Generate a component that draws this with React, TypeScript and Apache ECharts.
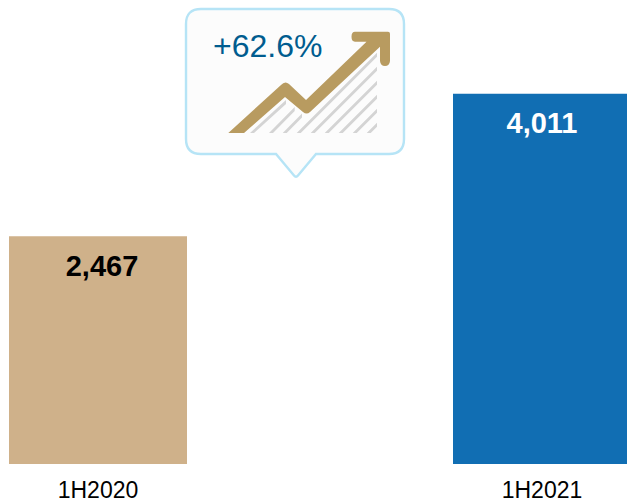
import React, { useEffect, useRef } from "react";
import * as echarts from "echarts";

const categories = ["1H2020", "1H2021"];
const values = [2467, 4011];
const barColors = ["#CFB18A", "#116EB3"];
const labelColors = ["#000000", "#FFFFFF"];
const labelOffsets = [[4, 1], [0, 1]];
const growthLabel = "+62.6%";

const FONT = '"Liberation Sans", Arial, sans-serif';

// Speech-bubble outline around the growth badge
const bubblePath =
  "M201 9 L389 9 Q404 9 404 24 L404 139 Q404 154 389 154 L316 154 L298 175.5 Q296 178 294 175.5 L276 154 L201 154 Q186 154 186 139 L186 24 Q186 9 201 9 Z";

// Rising arrow of the growth icon
const arrowPath =
  "M228.3 133 L281 85 Q285 80.5 289 84 L306 100 L366.5 41.7 L355 41.7 Q351.5 41.5 351.5 36.7 Q351.5 31.7 355 31.7 L388 31.7 Q390 31.7 390 33.7 L390 61 Q389.5 66 385 66 Q380.5 66 380 61 L380 46.7 L310 112 Q306.7 115 303 112 L285 97 L244 133 Z";

// Hatching under the arrow: [bottom x, top x, top y] per stripe
const hatchStripes = [
  [252, 286, 102],
  [271, 294.7, 109],
  [284.7, 302, 115.6],
  [298.7, 377, 54.7],
  [312.7, 377, 68.7],
  [326.7, 377, 82.7],
  [340.7, 377, 96.7],
  [354.7, 377, 110.7],
  [368.7, 377, 124.7],
];
const hatchPath = hatchStripes
  .map(([bx, tx, ty]) => `M${bx - 2} 133 L${bx + 2} 133 L${tx} ${ty + 2} L${tx} ${ty - 2} Z`)
  .join(" ");

echarts.graphic.registerShape("growthBubble", echarts.graphic.extendPath(bubblePath, {}));
echarts.graphic.registerShape("growthArrow", echarts.graphic.extendPath(arrowPath, {}));
echarts.graphic.registerShape("growthHatch", echarts.graphic.extendPath(hatchPath, {}));

export default function App() {
  const ref = useRef<HTMLDivElement>(null);

  useEffect(() => {
    const chart = echarts.init(ref.current!, null, { renderer: "svg" });
    chart.setOption({
      animation: false,
      backgroundColor: "#FFFFFF",
      // The grid runs past the canvas so the two bands land where the bars sit
      grid: { left: -124, top: 2.5, width: 888, height: 461.5, outerBoundsMode: "none" },
      xAxis: {
        type: "category",
        data: categories,
        axisLine: { show: false },
        axisTick: { show: false },
        axisLabel: {
          interval: 0,
          color: "#000000",
          fontFamily: FONT,
          fontSize: 23,
          lineHeight: 18,
          margin: 17,
        },
      },
      yAxis: { type: "value", min: 0, max: 5000, show: false, splitLine: { show: false } },
      series: [
        {
          type: "bar",
          barWidth: 178,
          data: values.map((value, i) => ({
            value,
            itemStyle: { color: barColors[i] },
            label: {
              show: true,
              position: "insideTop",
              distance: 14,
              offset: labelOffsets[i],
              formatter: ({ value: v }: { value: number }) => v.toLocaleString("en-US"),
              color: labelColors[i],
              fontFamily: FONT,
              fontWeight: "bold",
              fontSize: 29,
            },
          })),
        },
      ],
      graphic: [
        {
          type: "group",
          silent: true,
          children: [
            { type: "growthBubble", x: 0, y: 0, style: { fill: "#FCFCFC", stroke: "#B6E4F6", lineWidth: 2.4 } },
            { type: "growthHatch", x: 0, y: 0, style: { fill: "#D4D4D4" } },
            { type: "growthArrow", x: 0, y: 0, style: { fill: "#B89B60" } },
            {
              type: "text",
              x: 213,
              y: 46,
              style: {
                text: growthLabel,
                fill: "#005C8F",
                font: `32px ${FONT}`,
                verticalAlign: "middle",
              },
            },
          ],
        },
      ],
    });
    return () => chart.dispose();
  }, []);

  return <div ref={ref} style={{ position: "absolute", left: 0, top: 0, width: 627, height: 502 }} />;
}
